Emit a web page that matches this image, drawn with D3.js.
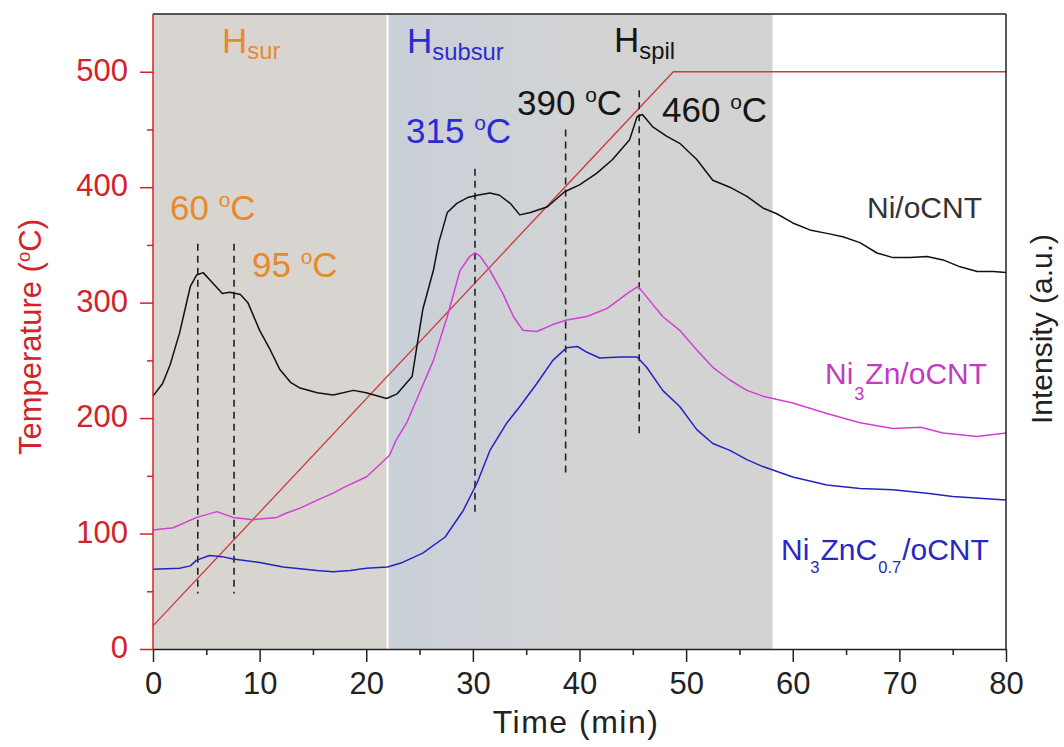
<!DOCTYPE html>
<html>
<head>
<meta charset="utf-8">
<script src="https://cdn.jsdelivr.net/npm/d3@7"></script>
<style>
  html, body { margin: 0; padding: 0; background: #fff; }
  svg { display: block; font-family: Arial, "Liberation Sans", Helvetica, sans-serif; }
</style>
</head>
<body>
<svg id="chart" width="1064" height="747"></svg>
<script>
// ---- data -------------------------------------------------------------
const timeTicks = [0, 10, 20, 30, 40, 50, 60, 70, 80];
const timeMinorTicks = [5, 15, 25, 35, 45, 55, 65, 75];
const tempTicks = [0, 100, 200, 300, 400, 500];
const tempMinorTicks = [50, 150, 250, 350, 450];

// temperature programme (min, °C)
const rampTime = [0, 48.8, 80];
const rampTemp = [20, 500, 500];

// shaded desorption regions (min)
const regionStart = [0, 22];
const regionEnd = [22, 58.1];

// H2-TPD traces (time in min, intensity in a.u., offset for display)
const niTime = [0, 0.9, 1.6, 2.5, 3.5, 4.1, 4.7, 5.6, 6.5, 7.2, 8.2, 8.9, 10, 11, 11.9, 12.9, 13.8, 15.4, 16.9, 18.8, 20, 21.9, 22.9, 24.3, 24.8, 25.3, 26.3, 26.8, 27.6, 28.5, 29.5, 30.4, 31.6, 32.5, 33.5, 34.4, 35.4, 37, 38.6, 40, 41.6, 43.1, 44.7, 45.4, 45.9, 46.9, 48.2, 49.4, 51, 52.5, 54.1, 55.7, 57.2, 58.5, 60, 61.6, 63.2, 64.7, 66.3, 67.9, 69.4, 71, 72.6, 74.1, 75.7, 77.3, 78.8, 80];
const niInt = [219, 230, 246, 274, 314, 324, 326, 317, 308, 309, 307, 300, 276, 259, 242, 231, 226, 222, 220, 224, 222, 217, 221, 236, 265, 294, 328, 352, 378, 386, 391, 393, 395, 393, 386, 376, 378, 383, 396, 402, 412, 424, 441, 461, 463, 452, 444, 438, 424, 406, 400, 392, 382, 377, 369, 363, 360, 357, 352, 343, 339, 339, 340, 337, 331, 327, 327, 326];

const ni3znTime = [0, 1.9, 4.1, 6, 7.5, 9.4, 11.6, 12.6, 13.8, 15.4, 16.9, 17.9, 20, 21.3, 22.2, 22.8, 23.8, 25, 26.3, 27.6, 28.8, 29.7, 30.2, 30.7, 31.6, 32.8, 33.8, 34.7, 36, 37.5, 38.8, 40.7, 42.6, 44.5, 45.5, 46.3, 47.8, 49.4, 51, 52.5, 54.1, 55.7, 57.2, 60, 63.2, 66.3, 69.4, 72, 74.1, 77.3, 80];
const ni3znInt = [103, 105, 114, 119, 114, 112, 114, 118, 122, 129, 135, 140, 149, 160, 168, 181, 196, 222, 250, 288, 328, 340, 343, 340, 328, 308, 288, 276, 275, 281, 285, 288, 295, 308, 314, 305, 288, 276, 259, 244, 233, 224, 219, 213, 204, 196, 191, 192, 187, 184, 187];

const ni3zncTime = [0, 2.5, 3.5, 4.1, 5.3, 6.5, 7.5, 10, 12.2, 15.4, 16.9, 18.5, 20, 22, 23.4, 25.3, 27.4, 29.1, 30.4, 31.6, 33.2, 34.4, 36, 37.5, 38.8, 39.8, 40.7, 41.9, 43.8, 45.4, 46.3, 47.8, 49.4, 51, 52.5, 54.1, 55.7, 57.2, 60, 63.2, 66.3, 69.4, 72.6, 75, 80];
const ni3zncInt = [69, 70, 72, 77, 81, 80, 78, 75, 71, 68, 67, 68, 70, 71, 75, 83, 97, 120, 144, 172, 196, 210, 230, 250, 261, 262, 257, 252, 253, 253, 244, 224, 210, 190, 178, 172, 164, 158, 149, 142, 139, 138, 135, 132, 129];

// peak markers: time (min) and vertical span
const peakTime = [4.2, 7.6, 30.2, 38.7, 45.6];
const peakTop = [351, 351, 416, 450, 484];
const peakBottom = [48, 48, 116, 149, 184];

// ---- layout -----------------------------------------------------------
const svg = d3.select("#chart");
const plotLeft = 153, plotRight = 1006, plotTop = 14, plotBottom = 649;
const x = d3.scaleLinear().domain([0, 80]).range([plotLeft, plotRight]);
const y = d3.scaleLinear().domain([0, 550]).range([plotBottom, plotTop]);
const yInt = d3.scaleLinear().domain([0, 550]).range([plotBottom, plotTop]);

const RED = "#d2232a";
const defs = svg.append("defs");
const grad = defs.append("linearGradient").attr("id", "subsurGrad")
  .attr("x1", "0%").attr("x2", "100%").attr("y1", "0%").attr("y2", "0%");
grad.append("stop").attr("offset", "0%").attr("stop-color", "#cad0d8");
grad.append("stop").attr("offset", "35%").attr("stop-color", "#cfd2d6");
grad.append("stop").attr("offset", "60%").attr("stop-color", "#d3d3d3");
grad.append("stop").attr("offset", "100%").attr("stop-color", "#d3d3d3");

const regionFill = ["#d8d5d0", "url(#subsurGrad)"];
svg.append("g").selectAll("rect").data(regionStart).join("rect")
  .attr("x", (d) => x(d))
  .attr("y", y(550))
  .attr("width", (d, i) => x(regionEnd[i]) - x(d))
  .attr("height", y(0) - y(550))
  .attr("fill", (d, i) => regionFill[i]);
// white divider between the two shaded regions
svg.append("line")
  .attr("x1", x(22)).attr("x2", x(22)).attr("y1", y(550)).attr("y2", y(0))
  .attr("stroke", "#fff").attr("stroke-width", 2);

// temperature ramp
const ramp = rampTime.map((t, i) => [t, rampTemp[i]]);
svg.append("path").datum(ramp)
  .attr("fill", "none").attr("stroke", "#cf3a3a").attr("stroke-width", 1.3)
  .attr("d", d3.line().x((d) => x(d[0])).y((d) => y(d[1])));

// peak markers
svg.append("g").selectAll("line").data(peakTime).join("line")
  .attr("x1", (d) => x(d)).attr("x2", (d) => x(d))
  .attr("y1", (d, i) => y(peakTop[i])).attr("y2", (d, i) => y(peakBottom[i]))
  .attr("stroke", "#222").attr("stroke-width", 1.6).attr("stroke-dasharray", "7,5");

// traces
const traceLine = d3.line().x((d) => x(d[0])).y((d) => yInt(d[1]));
const traces = [
  { t: ni3zncTime, v: ni3zncInt, c: "#2323c4" },
  { t: ni3znTime, v: ni3znInt, c: "#d43ed4" },
  { t: niTime, v: niInt, c: "#111111" }
];
traces.forEach((s) => {
  svg.append("path").datum(s.t.map((t, i) => [t, s.v[i]]))
    .attr("fill", "none").attr("stroke", s.c).attr("stroke-width", 1.5)
    .attr("stroke-linejoin", "round")
    .attr("d", traceLine);
});

// ---- frame & axes -----------------------------------------------------
svg.append("line").attr("x1", plotLeft).attr("x2", plotRight).attr("y1", plotTop).attr("y2", plotTop)
  .attr("stroke", "#222").attr("stroke-width", 1.5);
svg.append("line").attr("x1", plotRight).attr("x2", plotRight).attr("y1", plotTop).attr("y2", plotBottom)
  .attr("stroke", "#222").attr("stroke-width", 1.5);

const xAxis = svg.append("g").attr("transform", `translate(0,${plotBottom})`)
  .call(d3.axisBottom(x).tickValues(timeTicks).tickSize(13).tickSizeOuter(0).tickPadding(10));
const xMinor = svg.append("g").attr("transform", `translate(0,${plotBottom})`)
  .call(d3.axisBottom(x).tickValues(timeMinorTicks).tickSize(6).tickFormat(""));
xMinor.select(".domain").remove();
xMinor.selectAll("line").attr("stroke", "#222").attr("stroke-width", 1.5);
xAxis.selectAll("path, line").attr("stroke", "#222").attr("stroke-width", 1.5);
xAxis.selectAll("text").attr("font-size", 31).attr("fill", "#222")
  .attr("font-family", "Arial, 'Liberation Sans', sans-serif");

const yAxis = svg.append("g").attr("transform", `translate(${plotLeft},0)`)
  .call(d3.axisLeft(y).tickValues(tempTicks).tickSize(13).tickSizeOuter(0).tickPadding(12));
const yMinor = svg.append("g").attr("transform", `translate(${plotLeft},0)`)
  .call(d3.axisLeft(y).tickValues(tempMinorTicks).tickSize(6).tickFormat(""));
yMinor.select(".domain").remove();
yMinor.selectAll("line").attr("stroke", RED).attr("stroke-width", 1.5);
yAxis.select(".domain").attr("d", `M0,${plotBottom}V${plotTop}`);
yAxis.selectAll("path, line").attr("stroke", RED).attr("stroke-width", 1.5);
yAxis.selectAll("text").attr("font-size", 31).attr("fill", RED)
  .attr("dy", "0.28em").attr("font-family", "Arial, 'Liberation Sans', sans-serif");

// ---- text helpers -----------------------------------------------------
// parts: [text, kind, dx] with kind "", "sub" or "sup"
function richText(xp, yp, size, color, parts, opts = {}) {
  const t = svg.append("text").attr("x", xp).attr("y", yp)
    .attr("font-size", size).attr("fill", color);
  if (opts.anchor) t.attr("text-anchor", opts.anchor);
  if (opts.rotate) t.attr("transform", `rotate(${opts.rotate},${xp},${yp})`);
  let shift = 0;
  parts.forEach(([txt, kind, dx]) => {
    const sp = t.append("tspan").text(txt);
    let target = 0, fs = size;
    if (kind === "sub") { target = opts.subShift ?? size * 0.2; fs = size * (opts.subScale ?? 0.68); }
    if (kind === "sup") { target = -size * 0.36; fs = size * 0.6; }
    sp.attr("dy", target - shift).attr("font-size", fs);
    if (dx) sp.attr("dx", dx);
    shift = target;
  });
  return t;
}

// region headers
richText(222, 53, 35, "#e8892d", [["H", ""], ["sur", "sub"]], { subShift: 6 });
richText(407, 53, 35, "#2b2bd0", [["H", ""], ["subsur", "sub"]], { subShift: 7 });
richText(614, 52, 35, "#151515", [["H", ""], ["spil", "sub"]], { subShift: 7 });

// peak temperature labels
richText(170, 220, 35, "#e8892d", [["60 ", ""], ["o", "sup"], ["C", ""]]);
richText(252, 277, 35, "#e8892d", [["95 ", ""], ["o", "sup"], ["C", ""]]);
richText(406, 143, 35, "#2b2bd0", [["315 ", ""], ["o", "sup"], ["C", ""]]);
richText(517, 115, 35, "#151515", [["390 ", ""], ["o", "sup"], ["C", ""]]);
richText(662, 122, 35, "#151515", [["460 ", ""], ["o", "sup"], ["C", ""]]);

// series labels
richText(867, 218, 30, "#333333", [["Ni/oCNT", ""]]);
richText(825, 384, 30, "#c23cc2", [["Ni", ""], ["3", "sub", 1], ["Zn/oCNT", "", 1]], { subShift: 16, subScale: 0.6 });
richText(781, 560, 30, "#2828c0", [["Ni", ""], ["3", "sub", 1], ["ZnC", "", 1], ["0.7", "sub", 1], ["/oCNT", "", 1]], { subShift: 13, subScale: 0.55 });

// axis titles
svg.append("text").attr("x", 576).attr("y", 733).attr("text-anchor", "middle")
  .attr("font-size", 32).attr("fill", "#222").attr("letter-spacing", 1.5).text("Time (min)");
richText(41, 337, 31, RED, [["Temperature (", ""], ["o", "sup"], ["C)", ""]], { anchor: "middle", rotate: -90 });
svg.append("text").attr("x", 1052).attr("y", 329).attr("text-anchor", "middle")
  .attr("font-size", 30).attr("fill", "#222")
  .attr("transform", "rotate(-90,1052,329)").text("Intensity (a.u.)");
</script>
</body>
</html>
